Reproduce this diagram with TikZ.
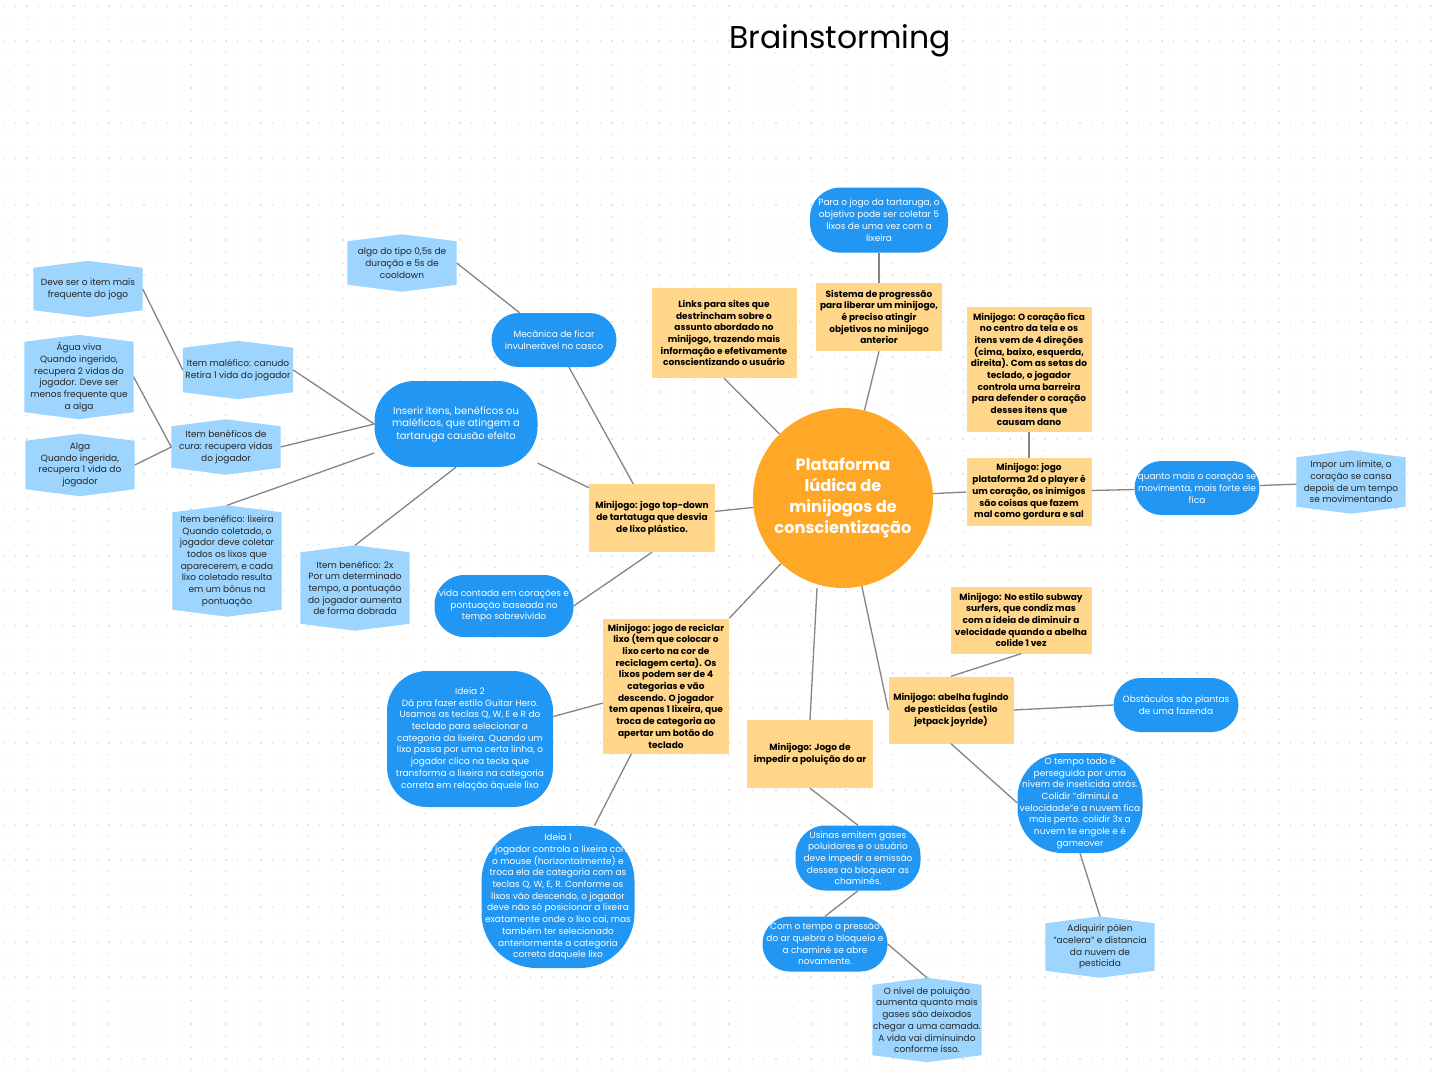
\documentclass[tikz,border=0pt]{standalone}
\usepackage{fontspec}
\setmainfont{Poppins}
\usepackage{tikz}
\usetikzlibrary{positioning, backgrounds}
\definecolor{huborange}{HTML}{FFA726}
\definecolor{boxyellow}{HTML}{FFD68A}
\definecolor{pillblue}{HTML}{2196F3}
\definecolor{hexblue}{HTML}{9DD5FF}
\definecolor{linegray}{HTML}{858585}
\tikzstyle{edgeline} = [draw=linegray, line width=1.3pt]
\tikzstyle{gamebox} = [rectangle, fill=boxyellow, align=center, inner sep=1pt,
                       font=\fontsize{9}{11.7}\selectfont\bfseries]
\tikzstyle{pill} = [rectangle, rounded corners=27pt, fill=pillblue, text=white, align=center, inner sep=1pt,
                    minimum width=125pt, minimum height=54pt, font=\fontsize{9}{11.7}\selectfont]
\tikzstyle{hexnote} = [rectangle, align=center, inner sep=0pt, minimum width=109pt, text=black!85,
                       font=\fontsize{9}{11.7}\selectfont]
\tikzstyle{dotrow} = [draw=black!11, line width=1.3pt, dash pattern=on 1.3pt off 10.4pt]

\begin{document}
\begin{tikzpicture}[x=1pt, y=-1pt]
    \useasboundingbox (0,0) rectangle (1435,1080);

    % Title and hub
    \node[font=\fontsize{31.5}{38}\selectfont] (title) at (840,41) {Brainstorming};
    \node[circle, fill=huborange, minimum size=180pt, text=white, align=center,
          font=\fontsize{16.2}{21}\selectfont\bfseries] (hub) at (843,498)
          {Plataforma\\lúdica de\\minijogos de\\conscientização};

    % Yellow boxes
    \node[gamebox, minimum width=145pt, minimum height=90pt] (links) at (724,333)
        {Links para sites que\\destrincham sobre o\\assunto abordado no\\minijogo, trazendo mais\\informação e efetivamente\\conscientizando o usuário};
    \node[gamebox, minimum width=126pt, minimum height=68pt] (prog) at (879,317)
        {Sistema de progressão\\para liberar um minijogo,\\é preciso atingir\\objetivos no minijogo\\anterior};
    \node[gamebox, minimum width=125pt, minimum height=68pt] (plat) at (1029,492)
        {Minijogo: jogo\\plataforma 2d o player é\\um coração, os inimigos\\são coisas que fazem\\mal como gordura e sal};
    \node[gamebox, minimum width=125pt, minimum height=125pt, above=26pt of plat] (heart)
        {Minijogo: O coração fica\\no centro da tela e os\\itens vem de 4 direções\\(cima, baixo, esquerda,\\direita). Com as setas do\\teclado, o jogador\\controla uma barreira\\para defender o coração\\desses itens que\\causam dano};
    \node[gamebox, minimum width=126pt, minimum height=68pt] (turtle) at (652,518)
        {Minijogo: jogo top-down\\de tartatuga que desvia\\de lixo plástico.};
    \node[gamebox, minimum width=126pt, minimum height=135pt] (recycle) at (666,686)
        {Minijogo: jogo de reciclar\\lixo (tem que colocar o\\lixo certo na cor de\\reciclagem certa). Os\\lixos podem ser de 4\\categorias e vão\\descendo. O jogador\\tem apenas 1 lixeira, que\\troca de categoria ao\\apertar um botão do\\teclado};
    \node[gamebox, minimum width=141pt, minimum height=67pt] (subway) at (1021,620)
        {Minijogo: No estilo subway\\surfers, que condiz mas\\com a ideia de diminuir a\\velocidade quando a abelha\\colide 1 vez};
    \node[gamebox, minimum width=125pt, minimum height=67pt] (bee) at (951,710)
        {Minijogo: abelha fugindo\\de pesticidas (estilo\\jetpack joyride)};
    \node[gamebox, minimum width=126pt, minimum height=68pt] (air) at (810,754)
        {Minijogo: Jogo de\\impedir a poluição do ar};

    % Blue pills
    \node[pill, minimum width=138pt, minimum height=65pt, rounded corners=30pt, above=30pt of prog] (goal)
        {Para o jogo da tartaruga, o\\objetivo pode ser coletar 5\\lixos de uma vez com a\\lixeira};
    \node[pill] (shell) at (554,340)
        {Mecânica de ficar\\invulnerável no casco};
    \node[pill, minimum width=163pt, minimum height=86pt, rounded corners=40pt,
          font=\fontsize{10}{12.5}\selectfont] (items) at (456,424)
        {Inserir itens, benéficos ou\\maléficos, que atingem a\\tartaruga causão efeito};
    \node[pill, minimum width=139pt, minimum height=62pt, rounded corners=30pt] (lives) at (504,606)
        {vida contada em corações e\\pontuação baseada no\\tempo sobrevivido};
    \node[pill] (strong) at (1197,488)
        {quanto mais o coração se\\movimenta, mais forte ele\\fica};
    \node[pill] (farm) at (1176,705)
        {Obstáculos são plantas\\de uma fazenda};
    \node[pill, minimum height=100pt, rounded corners=45pt] (cloud) at (1080,803)
        {O tempo todo é\\perseguida por uma\\nivem de inseticida atrás.\\Colidir "diminui a\\velocidade"e a nuvem fica\\mais perto. colidir 3x a\\nuvem te engole e é\\gameover};
    \node[pill, minimum height=65pt, rounded corners=30pt] (smoke) at (858,858)
        {Usinas emitem gases\\poluidores e o usuário\\deve impedir a emissão\\desses ao bloquear as\\chaminés.};
    \node[pill, minimum height=55pt] (pressure) at (825,944)
        {Com o tempo a pressão\\do ar quebra o bloqueio e\\a chaminé se abre\\novamente.};
    \node[pill, minimum width=166pt, minimum height=136pt, rounded corners=40pt] (idea2) at (470,739)
        {Ideia 2\\Dá pra fazer estilo Guitar Hero.\\Usamos as teclas Q, W, E e R do\\teclado para selecionar a\\categoria da lixeira. Quando um\\lixo passa por uma certa linha, o\\jogador clica na tecla que\\transforma a lixeira na categoria\\correta em relação àquele lixo};
    \node[pill, minimum width=153pt, minimum height=142pt, rounded corners=55pt] (idea1) at (558,897)
        {Ideia 1\\O jogador controla a lixeira com\\o mouse (horizontalmente) e\\troca ela de categoria com as\\teclas Q, W, E, R. Conforme os\\lixos vão descendo, o jogador\\deve não só posicionar a lixeira\\exatamente onde o lixo cai, mas\\também ter selecionado\\anteriormente a categoria\\correta daquele lixo};

    % Light blue notes
    \node[hexnote, minimum height=42pt] (hfreq) at (88,289) {Deve ser o item mais\\frequente do jogo};
    \node[hexnote, minimum width=110pt, minimum height=44pt] (hstraw) at (238,370) {Item maléfico: canudo\\Retira 1 vida do jogador};
    \node[hexnote, minimum height=70pt] (hjelly) at (79,377) {Água viva\\Quando ingerido,\\recupera 2 vidas do\\jogador. Deve ser\\menos frequente que\\a alga};
    \node[hexnote, minimum height=41pt] (hcure) at (226,447) {Item benéficos de\\cura: recupera vidas\\do jogador};
    \node[hexnote, minimum height=48pt] (halga) at (80,465) {Alga\\Quando ingerida,\\recupera 1 vida do\\jogador};
    \node[hexnote, minimum height=97pt] (hbin) at (227,561) {Item benéfico: lixeira\\Quando coletado, o\\jogador deve coletar\\todos os lixos que\\aparecerem, e cada\\lixo coletado resulta\\em um bônus na\\pontuação};
    \node[hexnote, minimum height=71pt] (hdouble) at (355,588) {Item benéfico: 2x\\Por um determinado\\tempo, a pontuação\\do jogador aumenta\\de forma dobrada};
    \node[hexnote, minimum height=43pt] (hcool) at (402,263) {algo do tipo 0,5s de\\duração e 5s de\\cooldown};
    \node[hexnote, minimum height=49pt] (hlimit) at (1351,482) {Impor um limite, o\\coração se cansa\\depois de um tempo\\se movimentando};
    \node[hexnote, minimum height=47pt] (hpollen) at (1100,947) {Adiquirir pólen\\"acelera" e distancia\\da nuvem de\\pesticida};
    \node[hexnote, minimum height=70pt] (hlevel) at (927,1020) {O nível de poluição\\aumenta quanto mais\\gases são deixados\\chegar a uma camada.\\A vida vai diminuindo\\conforme isso.};

    % Edges from the hub
    \draw[edgeline] (hub) -- (links.south);
    \draw[edgeline] (hub) -- (prog.south);
    \draw[edgeline] (hub) -- (plat.west);
    \draw[edgeline] (hub) -- (turtle);
    \draw[edgeline] (hub) -- (recycle.north east);
    \draw[edgeline] ([xshift=-26pt]hub.south) -- (air.north);
    \draw[edgeline] (hub) -- (bee.west);

    % Other edges
    \draw[edgeline] (goal) -- (prog);
    \draw[edgeline] (heart) -- (plat);
    \draw[edgeline] (plat) -- (strong);
    \draw[edgeline] (strong) -- (hlimit);
    \draw[edgeline] (turtle) -- (shell);
    \draw[edgeline] (hcool.east) -- (shell);
    \draw[edgeline] (turtle) -- (items);
    \draw[edgeline] (turtle.south) -- (lives.east);
    \draw[edgeline] (recycle) -- (idea2);
    \draw[edgeline] (recycle) -- (idea1);
    \draw[edgeline] (air.south) -- (smoke.north);
    \draw[edgeline] (smoke.south) -- (pressure.north);
    \draw[edgeline] (pressure.east) -- ([yshift=7pt]hlevel.north);
    \draw[edgeline] (bee.north) -- (subway.south);
    \draw[edgeline] (bee.east) -- (farm.west);
    \draw[edgeline] (bee.south) -- (cloud.west);
    \draw[edgeline] (cloud.south) -- ([yshift=7pt]hpollen.north);
    \draw[edgeline] (hstraw.east) -- (items.west);
    \draw[edgeline] (hcure.east) -- (items.west);
    \draw[edgeline] ([yshift=7pt]hbin.north) -- (items);
    \draw[edgeline] ([yshift=7pt]hdouble.north) -- (items.south);
    \draw[edgeline] (hfreq.east) -- (hstraw.west);
    \draw[edgeline] (hjelly.east) -- (hcure.west);
    \draw[edgeline] (halga.east) -- (hcure.west);

    % Background: dot grid and note shapes
    \begin{scope}[on background layer]
        \fill[white] (0,0) rectangle (1435,1080);
        \foreach \y in {6,17.7,...,1080}
            \draw[dotrow] (3,\y) -- (1435,\y);
        \foreach \h in {hfreq,hstraw,hjelly,hcure,halga,hbin,hdouble,hcool,hlimit,hpollen,hlevel}
            \fill[hexblue] (\h.north west) -- ([yshift=7pt]\h.north) -- (\h.north east)
                -- (\h.south east) -- ([yshift=-7pt]\h.south) -- (\h.south west) -- cycle;
    \end{scope}
\end{tikzpicture}
\end{document}
